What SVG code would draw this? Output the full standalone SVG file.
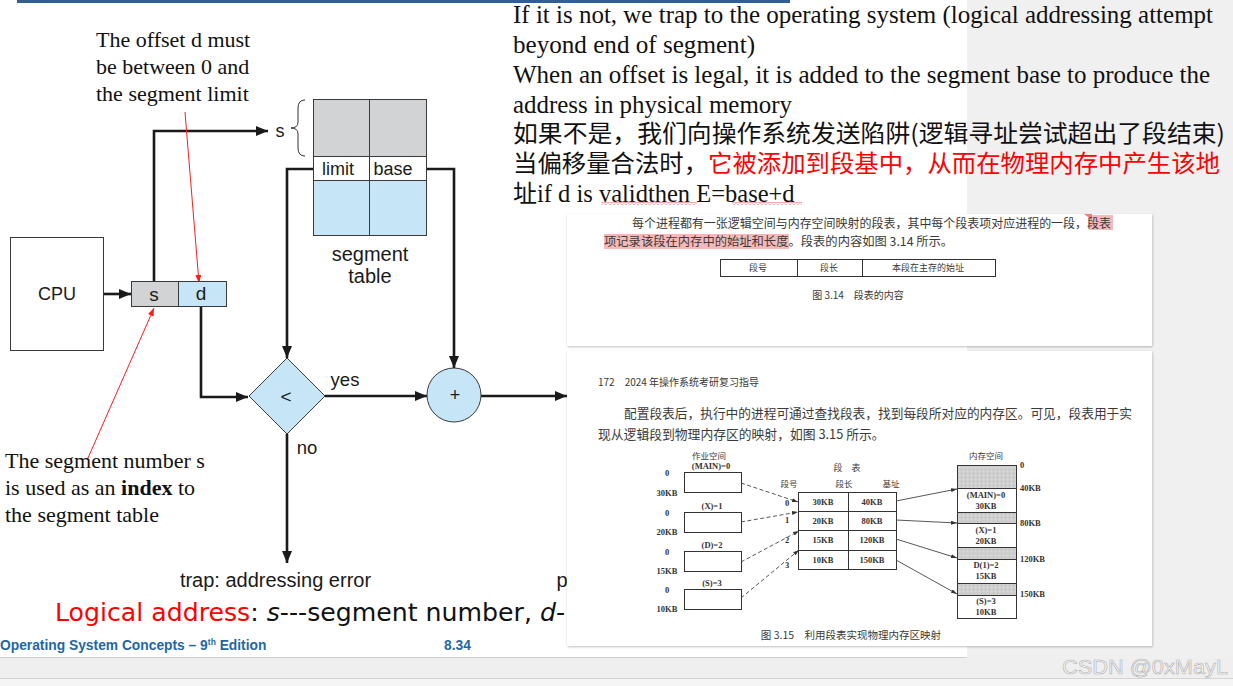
<svg xmlns="http://www.w3.org/2000/svg" width="1233" height="686" viewBox="0 0 1233 686">
<defs>
<style>
.ln{fill:none;stroke:#1a1a1a;stroke-width:2.6}
.rl{fill:none;stroke:#ff1a1a;stroke-width:1}
.bx{stroke:#3a3a3a;stroke-width:1}
.hv{font-family:"Liberation Sans",Arial,sans-serif;fill:#1a1a1a}
.tm{font-family:"Liberation Serif","Times New Roman",serif;fill:#111}
.cj{font-family:"Noto Sans CJK SC",sans-serif;fill:#111}
.sc{font-family:"Noto Sans CJK SC",sans-serif;fill:#3a3a3a}
.sn{font-family:"Liberation Serif",serif;font-weight:bold;fill:#333;font-size:8.5px}
.fb{stroke:#333;stroke-width:1;fill:#fff}
.ds{fill:none;stroke:#444;stroke-width:0.9;stroke-dasharray:4 2.5}
.sl{fill:none;stroke:#444;stroke-width:0.9}
.ft{font-family:"Liberation Sans",Arial,sans-serif;font-weight:bold;fill:#1f68a3;font-size:13.8px}
</style>
<marker id="ah" viewBox="0 0 12 10" refX="12" refY="5" markerWidth="12" markerHeight="10" markerUnits="userSpaceOnUse" orient="auto"><path d="M0,0 L12,5 L0,10 z" fill="#1a1a1a"/></marker>
<marker id="ar" viewBox="0 0 8 6" refX="8" refY="3" markerWidth="8" markerHeight="6" markerUnits="userSpaceOnUse" orient="auto"><path d="M0,0 L8,3 L0,6 z" fill="#ff1a1a"/></marker>
<marker id="as" viewBox="0 0 6 4" refX="6" refY="2" markerWidth="6" markerHeight="4" markerUnits="userSpaceOnUse" orient="auto"><path d="M0,0 L6,2 L0,4 z" fill="#333"/></marker>
<pattern id="wavy" width="4" height="3" patternUnits="userSpaceOnUse"><path d="M0,2.5 L2,0.5 L4,2.5" stroke="#e03030" fill="none" stroke-width="0.8"/></pattern>
<pattern id="grain" width="4" height="4" patternUnits="userSpaceOnUse"><rect width="4" height="4" fill="#cfcfcf"/><rect x="1" y="1" width="1" height="1" fill="#b8b8b8"/><rect x="3" y="3" width="1" height="1" fill="#e0e0e0"/></pattern>
<filter id="sh" x="-2%" y="-2%" width="104%" height="104%"><feDropShadow dx="0.5" dy="1" stdDeviation="0.8" flood-color="#000" flood-opacity="0.25"/></filter>
</defs>

<!-- background -->
<rect width="1233" height="686" fill="#f0f0f0"/>
<rect x="0" y="0" width="967" height="657" fill="#ffffff"/>
<line x1="0" y1="657.5" x2="967" y2="657.5" stroke="#cfcfcf"/>
<rect x="0" y="658" width="1233" height="20" fill="#efefef"/>
<line x1="0" y1="678.5" x2="1233" y2="678.5" stroke="#d4d4d4"/>
<rect x="0" y="679" width="1233" height="7" fill="#f5f5f5"/>
<rect x="17" y="0" width="773" height="3" fill="#2f5f95"/>

<!-- connectors -->
<g id="connectors">
<path class="ln" d="M104,294 H131" marker-end="url(#ah)"/>
<path class="ln" d="M154,282 V131 H268" marker-end="url(#ah)"/>
<path class="ln" d="M313,169 H287 V358" marker-end="url(#ah)"/>
<path class="ln" d="M426,169 H454 V368" marker-end="url(#ah)"/>
<path class="ln" d="M201,307 V397 H248" marker-end="url(#ah)"/>
<path class="ln" d="M325,396 H427" marker-end="url(#ah)"/>
<path class="ln" d="M481,396 H567" marker-end="url(#ah)"/>
<path class="ln" d="M287,434 V563" marker-end="url(#ah)"/>
<path class="rl" d="M185,112 L199,283" marker-end="url(#ar)"/>
<path class="rl" d="M88,458 L154,308" marker-end="url(#ar)"/>
<text class="hv" x="345" y="386" font-size="18.5" text-anchor="middle">yes</text>
<text class="hv" x="307" y="454" font-size="18.5" text-anchor="middle">no</text>
</g>

<!-- nodes -->
<g id="cpu">
<rect class="bx" x="10.5" y="237.5" width="93" height="113" fill="#fff"/>
<text class="hv" x="57" y="300" font-size="18" text-anchor="middle">CPU</text>
</g>
<g id="logical-address">
<rect class="bx" x="131.5" y="281.5" width="47" height="25" fill="#d2d3d5"/>
<rect class="bx" x="178.5" y="281.5" width="48" height="25" fill="#c6e6f7"/>
<text class="hv" x="154" y="301" font-size="19" text-anchor="middle">s</text>
<text class="hv" x="201" y="300" font-size="19" text-anchor="middle">d</text>
</g>
<g id="segment-table">
<rect class="bx" x="313.5" y="99.5" width="113" height="57" fill="#d2d3d5"/>
<rect class="bx" x="313.5" y="156.5" width="113" height="24" fill="#fff"/>
<rect class="bx" x="313.5" y="180.5" width="113" height="55" fill="#c6e6f7"/>
<line class="bx" x1="369.5" y1="99.5" x2="369.5" y2="235.5"/>
<text class="hv" x="338" y="175" font-size="18" text-anchor="middle">limit</text>
<text class="hv" x="393" y="175" font-size="18" text-anchor="middle">base</text>
<path d="M305,100 Q298,100 298,108 V122 Q298,128 291,128 Q298,128 298,134 V148 Q298,156 305,156" fill="none" stroke="#333" stroke-width="1"/>
<text class="hv" x="280" y="137" font-size="18" text-anchor="middle">s</text>
<text class="hv" x="370" y="261" font-size="20" text-anchor="middle">segment</text>
<text class="hv" x="370" y="283" font-size="20" text-anchor="middle">table</text>
</g>
<g id="compare">
<polygon class="bx" points="287,358 325,396 287,434 249,396" fill="#c6e6f7"/>
<text class="hv" x="286" y="403" font-size="19" text-anchor="middle">&lt;</text>
</g>
<g id="adder">
<circle class="bx" cx="454" cy="395" r="27" fill="#c6e6f7"/>
<text class="hv" x="455" y="401" font-size="18" text-anchor="middle">+</text>
</g>
<g id="trap">
<text class="hv" x="275.5" y="587" font-size="20" text-anchor="middle">trap: addressing error</text>
<text class="hv" x="562" y="587" font-size="20" text-anchor="middle">p</text>
</g>

<!-- annotations -->
<g id="note-offset" class="tm" font-size="22">
<text x="96" y="47">The offset d must</text>
<text x="96" y="74">be between 0 and</text>
<text x="96" y="101">the segment limit</text>
</g>
<g id="note-index" class="tm" font-size="22">
<text x="5" y="468">The segment number s</text>
<text x="5" y="495">is used as an <tspan font-weight="bold">index</tspan> to</text>
<text x="5" y="522">the segment table</text>
</g>
<g id="logical-caption">
<text x="55" y="621" font-family="'DejaVu Sans',Verdana,sans-serif" font-size="25.2" fill="#111"><tspan fill="#ff0000">Logical address</tspan>: <tspan font-style="italic">s</tspan>---segment number, <tspan font-style="italic">d</tspan>-</text>
</g>
<g id="footer">
<text class="ft" x="0" y="650">Operating System Concepts – 9<tspan font-size="8.5" dy="-5">th</tspan><tspan dy="5"> Edition</tspan></text>
<text class="ft" x="444" y="650">8.34</text>
</g>

<!-- top notes -->
<g id="notes">
<text class="tm" x="513" y="23" font-size="24.5" textLength="700" lengthAdjust="spacingAndGlyphs">If it is not, we trap to the operating system (logical addressing attempt</text>
<text class="tm" x="513" y="53" font-size="24.5" textLength="242" lengthAdjust="spacingAndGlyphs">beyond end of segment)</text>
<text class="tm" x="513" y="83" font-size="24.5" textLength="697" lengthAdjust="spacingAndGlyphs">When an offset is legal, it is added to the segment base to produce the</text>
<text class="tm" x="513" y="113" font-size="24.5" textLength="279" lengthAdjust="spacingAndGlyphs">address in physical memory</text>
<text class="cj" x="513" y="142" font-size="24" textLength="712" lengthAdjust="spacingAndGlyphs">如果不是，我们向操作系统发送陷阱(逻辑寻址尝试超出了段结束)</text>
<text class="cj" x="513" y="172" font-size="24" textLength="707" lengthAdjust="spacingAndGlyphs">当偏移量合法时，<tspan fill="#ff0000">它被添加到段基中，从而在物理内存中产生该地</tspan></text>
<text x="513" y="202" font-size="24.5"><tspan class="cj" font-size="24" fill="#ff0000">址</tspan><tspan font-family="'Liberation Serif',serif" fill="#111">if d is validthen E=base+d</tspan></text>
<rect x="601" y="202" width="96" height="3" fill="url(#wavy)"/>
<rect x="732" y="202" width="70" height="3" fill="url(#wavy)"/>
</g>

<!-- screenshot 1 -->
<g id="shot-1">
<rect x="567" y="214" width="585" height="132" fill="#fff" filter="url(#sh)"/>
<rect x="1089" y="215" width="24" height="15" fill="#f6b9b9"/>
<rect x="604" y="234" width="185" height="15" fill="#f6b9b9"/>
<path d="M1084,214 L1092,214 L1092,220 z" fill="#f08080"/>
<text class="sc" x="632" y="228" font-size="12.3" textLength="479" lengthAdjust="spacingAndGlyphs">每个进程都有一张逻辑空间与内存空间映射的段表，其中每个段表项对应进程的一段，段表</text>
<text class="sc" x="604" y="246" font-size="12.3">项记录该段在内存中的始址和长度。段表的内容如图 3.14 所示。</text>
<rect class="fb" x="720.5" y="259.5" width="275" height="17"/>
<line x1="797.5" y1="259.5" x2="797.5" y2="276.5" stroke="#333"/>
<line x1="862.5" y1="259.5" x2="862.5" y2="276.5" stroke="#333"/>
<text class="sc" x="758" y="271" font-size="9" text-anchor="middle">段号</text>
<text class="sc" x="829" y="271" font-size="9" text-anchor="middle">段长</text>
<text class="sc" x="928" y="271" font-size="9" text-anchor="middle">本段在主存的始址</text>
<text class="sc" x="858" y="299" font-size="10" text-anchor="middle">图 3.14　段表的内容</text>
</g>

<!-- screenshot 2 -->
<g id="shot-2">
<rect x="567" y="351" width="585" height="295" fill="#fff" filter="url(#sh)"/>
<text class="sc" x="598" y="386" font-size="10">172　2024 年操作系统考研复习指导</text>
<text class="sc" x="624" y="418" font-size="12.8" textLength="508" lengthAdjust="spacingAndGlyphs">配置段表后，执行中的进程可通过查找段表，找到每段所对应的内存区。可见，段表用于实</text>
<text class="sc" x="598" y="439" font-size="12.8">现从逻辑段到物理内存区的映射，如图 3.15 所示。</text>

<g id="job-space">
<text class="sc" x="709" y="459" font-size="8.5" text-anchor="middle">作业空间</text>
<text class="sn" x="711" y="469" text-anchor="middle">(MAIN)=0</text>
<rect class="fb" x="684.5" y="472.5" width="57" height="20"/>
<text class="sn" x="712" y="509" text-anchor="middle">(X)=1</text>
<rect class="fb" x="684.5" y="512.5" width="57" height="20"/>
<text class="sn" x="712" y="548" text-anchor="middle">(D)=2</text>
<rect class="fb" x="684.5" y="551.5" width="57" height="20"/>
<text class="sn" x="712" y="586" text-anchor="middle">(S)=3</text>
<rect class="fb" x="684.5" y="589.5" width="57" height="20"/>
<g text-anchor="middle">
<text class="sn" x="667" y="476">0</text><text class="sn" x="667" y="496">30KB</text>
<text class="sn" x="667" y="516">0</text><text class="sn" x="667" y="535">20KB</text>
<text class="sn" x="667" y="555">0</text><text class="sn" x="667" y="574">15KB</text>
<text class="sn" x="667" y="593">0</text><text class="sn" x="667" y="612">10KB</text>
</g>
</g>

<g id="fig-table">
<text class="sc" x="847" y="471" font-size="9" text-anchor="middle">段　表</text>
<text class="sc" x="789" y="487" font-size="8.5" text-anchor="middle">段号</text>
<text class="sc" x="844" y="487" font-size="8.5" text-anchor="middle">段长</text>
<text class="sc" x="891" y="487" font-size="8.5" text-anchor="middle">基址</text>
<rect class="fb" x="798.5" y="492.5" width="98" height="77"/>
<line x1="848.5" y1="492.5" x2="848.5" y2="569.5" stroke="#333"/>
<line x1="798.5" y1="511.5" x2="896.5" y2="511.5" stroke="#333"/>
<line x1="798.5" y1="530.5" x2="896.5" y2="530.5" stroke="#333"/>
<line x1="798.5" y1="550.5" x2="896.5" y2="550.5" stroke="#333"/>
<g text-anchor="middle">
<text class="sn" x="823" y="505">30KB</text><text class="sn" x="872" y="505">40KB</text>
<text class="sn" x="823" y="524">20KB</text><text class="sn" x="872" y="524">80KB</text>
<text class="sn" x="823" y="543">15KB</text><text class="sn" x="872" y="543">120KB</text>
<text class="sn" x="823" y="563">10KB</text><text class="sn" x="872" y="563">150KB</text>
<text class="sn" x="787" y="506">0</text>
<text class="sn" x="787" y="523">1</text>
<text class="sn" x="787" y="543">2</text>
<text class="sn" x="787" y="568">3</text>
</g>
</g>

<g id="memory">
<text class="sc" x="986" y="459" font-size="8.5" text-anchor="middle">内存空间</text>
<rect x="957" y="465" width="59" height="23" fill="url(#grain)"/>
<rect x="957" y="512" width="59" height="11" fill="url(#grain)"/>
<rect x="957" y="547" width="59" height="12" fill="url(#grain)"/>
<rect x="957" y="583" width="59" height="12" fill="url(#grain)"/>
<rect x="957.5" y="465.5" width="59" height="153" fill="none" stroke="#333"/>
<g stroke="#333">
<line x1="957" y1="488.5" x2="1016" y2="488.5"/>
<line x1="957" y1="512.5" x2="1016" y2="512.5"/>
<line x1="957" y1="523.5" x2="1016" y2="523.5"/>
<line x1="957" y1="547.5" x2="1016" y2="547.5"/>
<line x1="957" y1="559.5" x2="1016" y2="559.5"/>
<line x1="957" y1="583.5" x2="1016" y2="583.5"/>
<line x1="957" y1="595.5" x2="1016" y2="595.5"/>
</g>
<g text-anchor="middle">
<text class="sn" x="986" y="498">(MAIN)=0</text><text class="sn" x="986" y="509">30KB</text>
<text class="sn" x="986" y="533">(X)=1</text><text class="sn" x="986" y="544">20KB</text>
<text class="sn" x="986" y="568">D(1)=2</text><text class="sn" x="986" y="579">15KB</text>
<text class="sn" x="986" y="604">(S)=3</text><text class="sn" x="986" y="615">10KB</text>
</g>
<text class="sn" x="1020" y="468">0</text>
<text class="sn" x="1020" y="491">40KB</text>
<text class="sn" x="1020" y="526">80KB</text>
<text class="sn" x="1020" y="562">120KB</text>
<text class="sn" x="1020" y="597">150KB</text>
</g>

<g id="fig-arrows">
<path class="ds" d="M741,483 L798,502" marker-end="url(#as)"/>
<path class="ds" d="M741,522 L798,512" marker-end="url(#as)"/>
<path class="ds" d="M741,562 L799,531" marker-end="url(#as)"/>
<path class="ds" d="M741,598 L799,550" marker-end="url(#as)"/>
<path class="sl" d="M896,501 L957,489" marker-end="url(#as)"/>
<path class="sl" d="M896,520 L957,523" marker-end="url(#as)"/>
<path class="sl" d="M896,539 L957,558" marker-end="url(#as)"/>
<path class="sl" d="M896,560 L957,594" marker-end="url(#as)"/>
</g>
<text class="sc" x="851" y="639" font-size="10.5" text-anchor="middle">图 3.15　利用段表实现物理内存区映射</text>
</g>

<!-- watermark -->
<text x="1062" y="674" font-family="'Liberation Sans',Arial,sans-serif" font-size="21" fill="#f6f6f6" stroke="#b0b0b0" stroke-width="0.6" textLength="166" lengthAdjust="spacingAndGlyphs">CSDN @0xMayL</text>
</svg>
